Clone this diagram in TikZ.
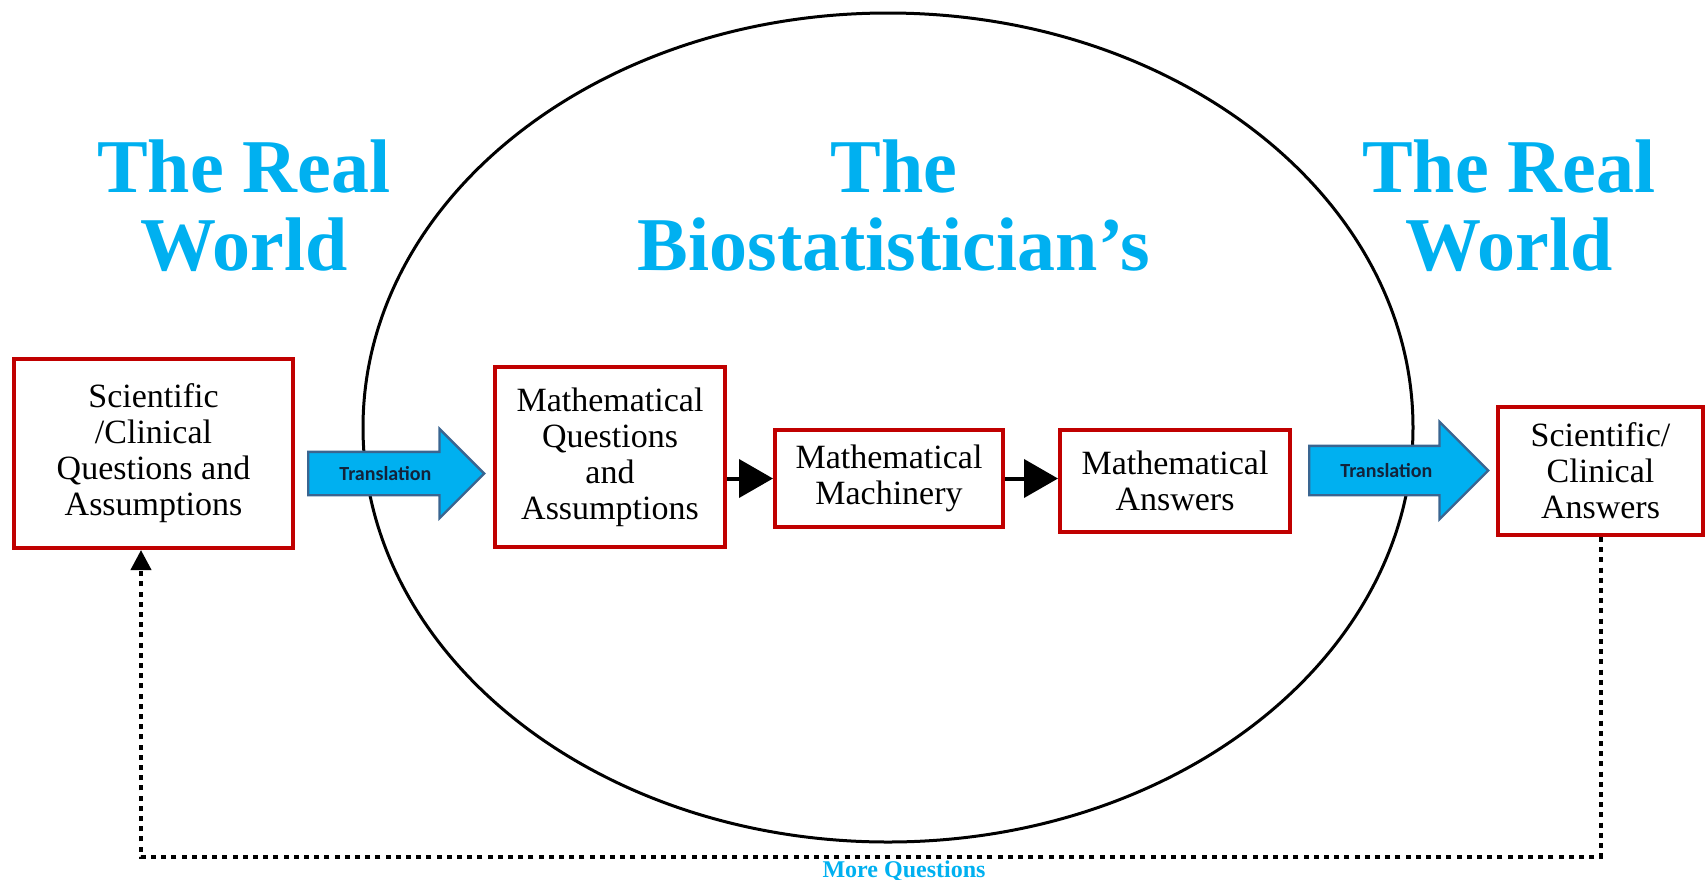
\documentclass[tikz,border=0pt]{standalone}
\usepackage{fontspec}
\setmainfont{Liberation Serif}
\newfontfamily\labelfont{Carlito}
\usetikzlibrary{shapes, arrows.meta, positioning}

\definecolor{titleblue}{HTML}{00B0F0}
\definecolor{boxred}{HTML}{C00000}
\definecolor{arrowedge}{HTML}{3A6590}
\definecolor{arrowtext}{HTML}{13233A}

\begin{document}
\begin{tikzpicture}[
    x=0.5pt, y=-0.5pt,
    title/.style={align=center, inner sep=0pt, text=titleblue, font=\fontsize{38}{39}\selectfont\bfseries},
    stage/.style={rectangle, draw=boxred, line width=2pt, align=center, inner sep=0pt, font=\fontsize{17}{18}\selectfont},
    translate/.style={single arrow, draw=arrowedge, fill=titleblue, line width=1.2pt, anchor=tail,
        text=arrowtext, font=\labelfont\fontsize{10}{12}\selectfont\bfseries,
        text height=7pt, text depth=0pt, inner xsep=2pt},
    arrow/.style={-{Triangle[length=17pt, width=19pt]}, line width=2pt},
    loopline/.style={-{Triangle[length=10pt, width=10pt]}, line width=2pt, dash pattern=on 2.5pt off 2.6pt},
]
    \useasboundingbox (0,0) rectangle (1708,879);

    % the biostatistician's world
    \node[ellipse, draw, line width=1.5pt, minimum width=525pt, minimum height=414.5pt, inner sep=0pt] (bio) at (888,427.5) {};

    % headings
    \node[title] (realL) at (244,205.5) {The Real\\World};
    \node[title] (bioT) at (894,205.5) {The\\Biostatistician’s};
    \node[title] (realR) at (1509,205.5) {The Real\\World};

    % boxes
    \node[stage, minimum width=139.5pt, minimum height=94.5pt] (sciQ) at (153.5,453.5) {Scientific\\/Clinical\\Questions and\\Assumptions};
    \node[stage, minimum width=115pt, minimum height=90pt] (mathQ) at (610,457) {Mathematical\\Questions\\and\\Assumptions};
    \node[stage, minimum width=114pt, minimum height=48.5pt] (mathM) at (889,478.5) {Mathematical\\Machinery};
    \node[stage, minimum width=115pt, minimum height=51pt] (mathA) at (1175,481) {Mathematical\\Answers};
    \node[stage, minimum width=102.5pt, minimum height=64pt] (sciA) at (1600.5,471) {Scientific/\\Clinical\\Answers};

    % translation arrows
    \node[translate, minimum height=88pt, inner ysep=6.75pt, single arrow head extend=11.5pt] (tr1) at (307,473.5) {Translation};
    \node[translate, minimum height=89.5pt, inner ysep=8.25pt, single arrow head extend=12pt] (tr2) at (1308,470.5) {Translation};

    \draw[arrow] (mathQ.east |- mathM.west) -- (mathM.west);
    \draw[arrow] (mathM.east) -- (mathM.east -| mathA.west);

    % feedback loop
    \coordinate (turn) at (141,857);
    \draw[loopline] (sciA.south) |- (turn) -- ([xshift=-6.25pt]sciQ.south);
    \node[anchor=base, inner sep=0pt, text=titleblue, font=\fontsize{12}{14}\selectfont\bfseries] (more) at (904,877) {More Questions};
\end{tikzpicture}
\end{document}
